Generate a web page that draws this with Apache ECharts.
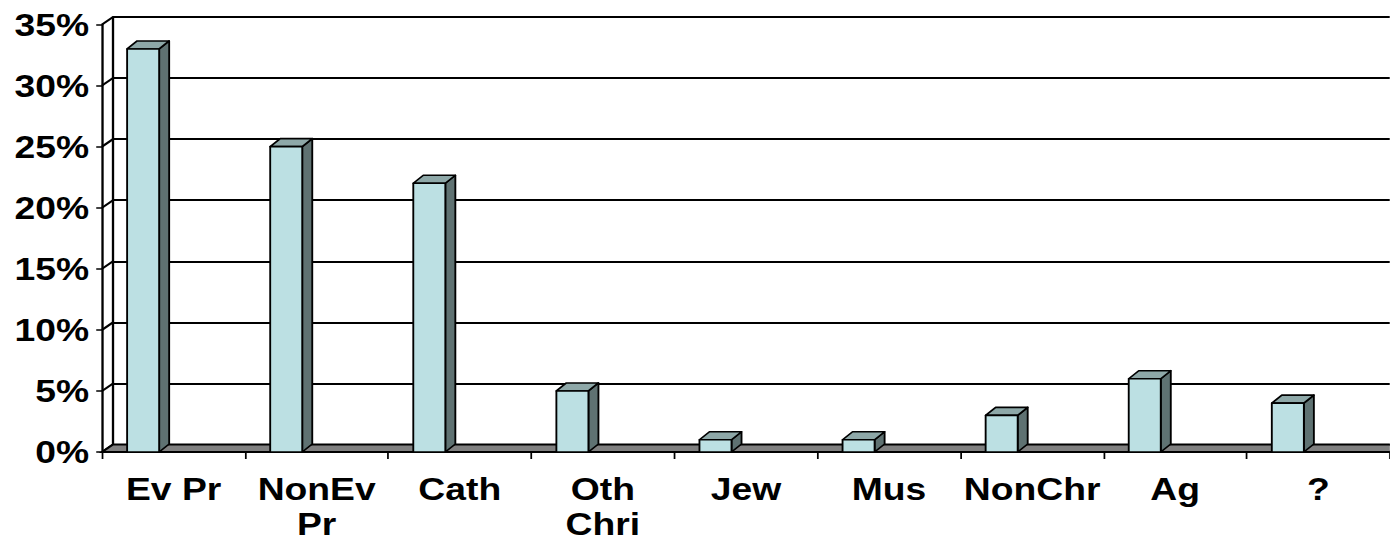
<!DOCTYPE html>
<html>
<head>
<meta charset="utf-8">
<script src="https://cdn.jsdelivr.net/npm/echarts@6/dist/echarts.min.js"></script>
<style>
  html, body { margin: 0; padding: 0; background: #fff; overflow: hidden; }
  /* the whole drawing is widened horizontally, like the original slide chart */
  #chart { width: 1193px; height: 552px; transform: scaleX(1.165); transform-origin: 0 0; }
</style>
</head>
<body>
<div id="chart"></div>
<script>
// Religious affiliation shares (percent)
const categories = ['Ev Pr', 'NonEv\nPr', 'Cath', 'Oth\nChri', 'Jew', 'Mus', 'NonChr', 'Ag', '?'];
const shares = [33, 25, 22, 5, 1, 1, 3, 6, 4];
const yTicks = [0, 5, 10, 15, 20, 25, 30, 35];

// oblique projection of the 3D box
const WALL_DX = 9.4, WALL_DY = 7.5;
const BAR_DX = 8.6, BAR_DY = 8;
const BAR_W = 27.5, BAR_SHIFT = -39.9;

const FRONT = { left: 87.6, top: 24.5, width: 1108.8, height: 427.5 };
const BACK = { left: FRONT.left + WALL_DX, top: FRONT.top - WALL_DY, width: FRONT.width, height: FRONT.height };

const labelFont = {
  fontFamily: '"Liberation Sans", Arial, sans-serif',
  fontWeight: 'bold',
  fontSize: 32,
  color: '#000'
};
const black = { color: '#000', width: 2 };

const chart = echarts.init(document.getElementById('chart'), null, { renderer: 'svg' });

chart.setOption({
  animation: false,
  backgroundColor: '#fff',
  grid: [FRONT, BACK],
  xAxis: [
    {
      gridIndex: 0, type: 'category', data: categories, boundaryGap: true,
      axisLine: { lineStyle: black },
      axisTick: { show: true, length: 7, interval: 0, lineStyle: { color: '#000', width: 1.5 } },
      axisLabel: Object.assign({ interval: 0, margin: 19, lineHeight: 35 }, labelFont),
      z: 1
    },
    { gridIndex: 1, type: 'category', data: categories, boundaryGap: true, show: false }
  ],
  yAxis: [
    {
      gridIndex: 0, type: 'value', min: 0, max: 35, interval: 5,
      axisLine: { show: true, lineStyle: black },
      axisTick: { show: true, length: 5, lineStyle: { color: '#000', width: 1.5 } },
      splitLine: { show: false },
      axisLabel: Object.assign({ formatter: '{value}%', margin: 11 }, labelFont)
    },
    {
      gridIndex: 1, type: 'value', min: 0, max: 35, interval: 5,
      axisLine: { show: true, lineStyle: black },
      axisTick: { show: false },
      axisLabel: { show: false },
      splitLine: { show: true, lineStyle: black }
    }
  ],
  series: [
    {
      // side wall: gridlines running from the front axis back to the wall
      type: 'custom', xAxisIndex: 0, yAxisIndex: 0, z: 2, silent: true,
      data: yTicks.map(v => [0, v]),
      renderItem: function (params, api) {
        const p = api.coord([0, api.value(1)]);
        const x = p[0] - api.size([1, 0])[0] / 2;
        return {
          type: 'line',
          shape: { x1: x, y1: p[1], x2: x + WALL_DX, y2: p[1] - WALL_DY },
          style: { stroke: '#000', lineWidth: 2 }
        };
      }
    },
    {
      // floor slab at 0%
      type: 'custom', xAxisIndex: 0, yAxisIndex: 0, z: 3, silent: true,
      data: [[0, 0]],
      renderItem: function (params, api) {
        const w = api.size([1, 0])[0];
        const p = api.coord([0, 0]);
        const l = p[0] - w / 2;
        const r = l + w * categories.length;
        const y = p[1];
        return {
          type: 'polygon',
          shape: { points: [[l, y], [r, y], [r + WALL_DX, y - WALL_DY], [l + WALL_DX, y - WALL_DY]] },
          style: { fill: '#808080', stroke: '#000', lineWidth: 2 }
        };
      }
    },
    {
      // 3D columns
      type: 'custom', xAxisIndex: 0, yAxisIndex: 0, z: 5,
      data: shares.map((v, i) => [i, v]),
      renderItem: function (params, api) {
        const top = api.coord([api.value(0), api.value(1)]);
        const base = api.coord([api.value(0), 0]);
        const L = top[0] + BAR_SHIFT, R = L + BAR_W;
        const T = top[1], B = base[1];
        const edge = { stroke: '#000', lineWidth: 1.6, lineJoin: 'round' };
        return {
          type: 'group',
          children: [
            {
              type: 'polygon',
              shape: { points: [[R, T], [R + BAR_DX, T - BAR_DY], [R + BAR_DX, B - BAR_DY], [R, B]] },
              style: Object.assign({ fill: '#5f7272' }, edge)
            },
            {
              type: 'polygon',
              shape: { points: [[L, T], [L + BAR_DX, T - BAR_DY], [R + BAR_DX, T - BAR_DY], [R, T]] },
              style: Object.assign({ fill: '#8ea8a8' }, edge)
            },
            {
              type: 'rect',
              shape: { x: L, y: T, width: BAR_W, height: B - T },
              style: Object.assign({ fill: '#bce0e3' }, edge)
            }
          ]
        };
      }
    }
  ]
});
</script>
</body>
</html>
